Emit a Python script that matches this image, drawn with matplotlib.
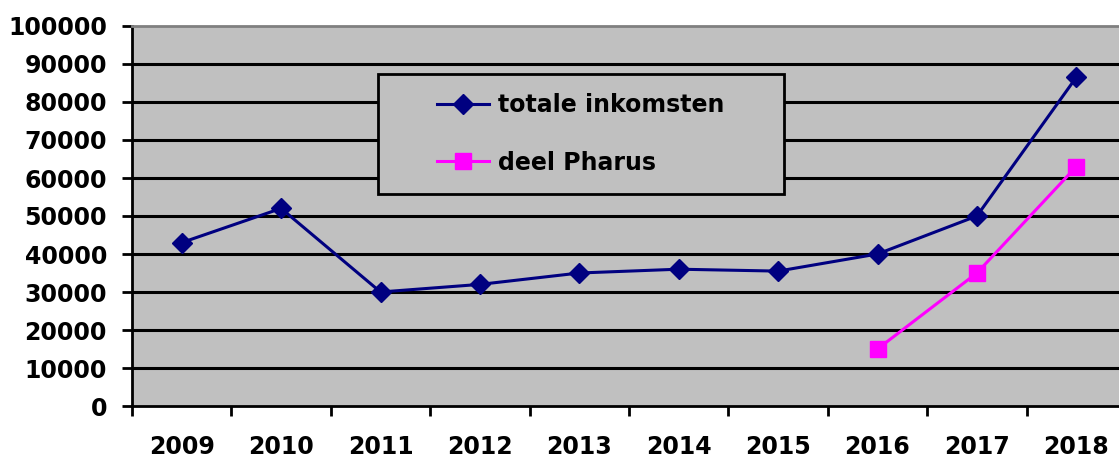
import matplotlib
matplotlib.use("Agg")
import matplotlib.pyplot as plt
from matplotlib.ticker import FixedLocator, NullFormatter
from matplotlib.patches import Rectangle

years = ["2009", "2010", "2011", "2012", "2013", "2014", "2015", "2016", "2017", "2018"]
totale = [43000, 52000, 30000, 32000, 35000, 36000, 35500, 40000, 50000, 86500]
pharus_years = ["2016", "2017", "2018"]
pharus = [15000, 35000, 63000]

plt.rcParams['font.family'] = ['DejaVu Sans']
plt.rcParams['font.weight'] = 'bold'
FS = 17

W, H = 1119, 462
fig = plt.figure(figsize=(W / 100, H / 100), dpi=100)
left, right, top, bottom = 132, 1126, 26, 406
ax = fig.add_axes([left / W, 1 - bottom / H, (right - left) / W, (bottom - top) / H])
ax.set_facecolor('#C0C0C0')

x = list(range(len(years)))
px = [years.index(y) for y in pharus_years]

ax.set_xlim(-0.5, len(years) - 0.5)
ax.set_ylim(0, 100000)
ax.set_yticks(range(0, 100001, 10000))
ax.set_yticklabels([str(v) for v in range(0, 100001, 10000)], fontsize=FS, fontweight='bold')
for v in range(10000, 100000, 10000):
    ax.axhline(v, color='black', lw=2.2, zorder=1)

ax.plot(x, totale, color='#000080', lw=2.2, marker='D', markersize=10.5, zorder=3,
        label='totale inkomsten')
ax.plot(px, pharus, color='#FF00FF', lw=2.2, marker='s', markersize=11, zorder=3,
        label='deel Pharus')

ax.xaxis.set_major_locator(FixedLocator([i + 0.5 for i in range(-1, len(years))]))
ax.xaxis.set_major_formatter(NullFormatter())
ax.xaxis.set_minor_locator(FixedLocator(x))
ax.set_xticklabels(years, minor=True, fontsize=FS, fontweight='bold')
ax.tick_params(axis='x', which='major', length=7, width=2, direction='out')
ax.tick_params(axis='x', which='minor', length=0, pad=21)
ax.tick_params(axis='y', length=7, width=2, direction='out', pad=11)

for s in ['left', 'bottom']:
    ax.spines[s].set_color('black')
    ax.spines[s].set_linewidth(2)
ax.spines['top'].set_color('#808080')
ax.spines['top'].set_linewidth(2)
ax.spines['right'].set_visible(False)

# legend frame
fig.patches.append(Rectangle((378 / W, 1 - 194 / H), (784 - 378) / W, (194 - 74) / H,
                             transform=fig.transFigure, facecolor='#C0C0C0',
                             edgecolor='black', lw=2, zorder=4))
leg = ax.legend(loc='upper left', bbox_to_anchor=(437 / W, 1 - 93 / H),
                bbox_transform=fig.transFigure,
                prop={'weight': 'bold', 'size': FS},
                frameon=False, borderpad=0, labelspacing=1.42,
                handlelength=2.2, handletextpad=0.4, borderaxespad=0)
leg.set_zorder(5)
leg.remove()
fig.add_artist(leg)

fig.savefig('out.png', dpi=100)
